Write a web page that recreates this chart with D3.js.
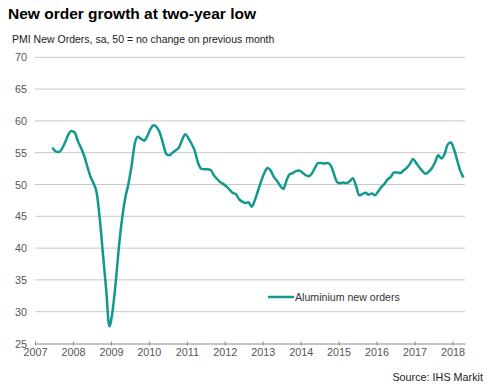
<!DOCTYPE html>
<html><head><meta charset="utf-8">
<script src="https://cdn.jsdelivr.net/npm/d3@7"></script>
<style>body{margin:0;background:#fff}svg{display:block}text{font-family:"Liberation Sans",Arial,sans-serif}</style>
</head><body>
<script>
const title = "New order growth at two-year low";
const subtitle = "PMI New Orders, sa, 50 = no change on previous month";
const source = "Source: IHS Markit";
const seriesName = "Aluminium new orders";
const startYear = 2007, startMonth = 5; // June 2007
const values = [
 55.8,55.2,55.1,55.6,56.6,57.8,58.4,
 58.2,56.9,55.8,54.6,52.9,51.3,50.2,48.7,44.5,39.0,33.5,27.7,
 30.0,34.5,40.0,44.5,47.8,50.0,52.8,56.3,57.5,57.2,56.9,57.6,
 58.7,59.3,59.0,58.1,56.4,54.8,54.6,55.0,55.4,55.8,57.0,57.9,
 57.3,56.4,55.3,53.5,52.5,52.4,52.4,52.3,51.5,50.9,50.4,50.1,
 49.7,49.2,48.7,48.5,47.7,47.3,47.1,47.2,46.5,47.5,49.0,50.5,
 51.8,52.6,52.2,51.2,50.6,49.8,49.3,50.6,51.6,51.8,52.1,52.2,
 51.9,51.5,51.3,51.7,52.6,53.4,53.4,53.3,53.4,53.0,51.7,50.4,
 50.2,50.3,50.2,50.5,51.0,49.8,48.3,48.5,48.7,48.4,48.6,48.3,
 48.9,49.6,50.1,50.8,51.2,51.9,51.9,51.8,52.2,52.6,53.2,54.0,
 53.4,52.7,52.1,51.7,52.0,52.6,53.5,54.6,54.1,54.8,56.3,56.6,
 55.5,53.8,52.1,51.1
];
const yTicks = [25,30,35,40,45,50,55,60,65,70];
const xTicks = [2007,2008,2009,2010,2011,2012,2013,2014,2015,2016,2017,2018];

const W = 493, H = 391;
const svg = d3.select("body").append("svg").attr("width", W).attr("height", H);
const x = d3.scaleLinear().domain([2007, 2018.33]).range([35, 465]);
const y = d3.scaleLinear().domain([25, 70]).range([343.5, 57.3]);

svg.append("text").attr("x", 8).attr("y", 19).attr("font-size", 15.5).attr("font-weight", "bold").attr("fill", "#000").text(title);
svg.append("text").attr("x", 12).attr("y", 43).attr("font-size", 10.5).attr("fill", "#222").text(subtitle);

// gridlines
svg.append("g").selectAll("line").data(yTicks.filter(d => d > 25)).join("line")
  .attr("x1", x.range()[0]).attr("x2", x.range()[1])
  .attr("y1", d => y(d)).attr("y2", d => y(d))
  .attr("stroke", "#c8c8c8").attr("stroke-width", 1);

// y labels
svg.append("g").selectAll("text").data(yTicks).join("text")
  .attr("x", 27).attr("y", d => y(d) + 4).attr("text-anchor", "end")
  .attr("font-size", 10.8).attr("fill", "#555").text(d => d);

// x axis
const xAxis = d3.axisBottom(x).tickValues(xTicks).tickFormat(d3.format("d")).tickSize(4).tickSizeOuter(0);
const gx = svg.append("g").attr("transform", `translate(0,${y(25)})`).call(xAxis);
gx.select(".domain").attr("stroke", "#888");
gx.selectAll(".tick line").attr("stroke", "#888").attr("transform", "translate(0,-2)");
gx.selectAll(".tick text").attr("font-size", 10.8).attr("fill", "#555").attr("font-family", "Liberation Sans, Arial, sans-serif").attr("dy", "0.55em");

// line
const pts = values.map((v, i) => {
  const m = startMonth + i;
  return {t: startYear + Math.floor(m / 12) + ((m % 12) + 0.5) / 12, v};
});
const line = d3.line().x(d => x(d.t)).y(d => y(d.v)).curve(d3.curveMonotoneX);
svg.append("path").datum(pts).attr("d", line).attr("fill", "none")
  .attr("stroke", "#12998e").attr("stroke-width", 2.5).attr("stroke-linejoin", "round");

// legend
svg.append("line").attr("x1", 268).attr("x2", 294).attr("y1", 297).attr("y2", 297)
  .attr("stroke", "#12998e").attr("stroke-width", 2.5);
svg.append("text").attr("x", 295).attr("y", 301).attr("font-size", 10.6).attr("fill", "#333").text(seriesName);

svg.append("text").attr("x", 483).attr("y", 381).attr("text-anchor", "end").attr("font-size", 10.8).attr("fill", "#222").text(source);
</script>
</body></html>
